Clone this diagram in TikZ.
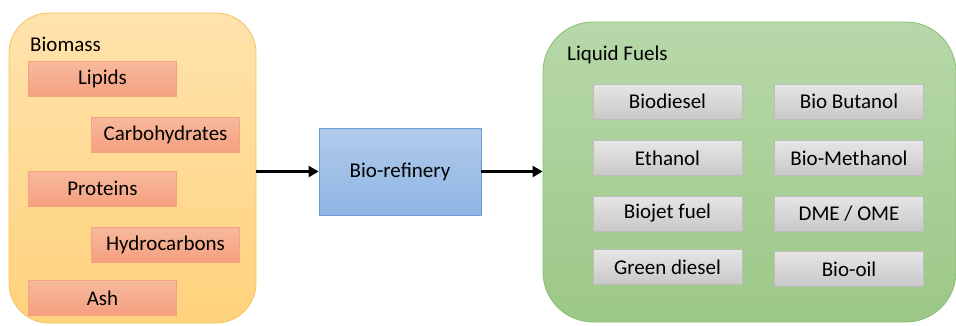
\documentclass[tikz,border=0pt]{standalone}
\usepackage{fontspec}
\setmainfont{Carlito}
\usetikzlibrary{arrows.meta}
\definecolor{panO1}{HTML}{FFE3AD}
\definecolor{panO2}{HTML}{FFD27C}
\definecolor{panOb}{HTML}{F7C35E}
\definecolor{boxS1}{HTML}{F7B99C}
\definecolor{boxS2}{HTML}{F5A080}
\definecolor{boxSb}{HTML}{F4A27F}
\definecolor{blu1}{HTML}{B1CBEA}
\definecolor{blu2}{HTML}{8EB4E3}
\definecolor{blub}{HTML}{6E9DD6}
\definecolor{grn1}{HTML}{B7D8A9}
\definecolor{grn2}{HTML}{9CC887}
\definecolor{grnb}{HTML}{8CBF74}
\definecolor{gry1}{HTML}{E6E6E6}
\definecolor{gry2}{HTML}{C8C8C8}
\definecolor{gryb}{HTML}{BDBDBD}
\tikzset{
  panelO/.style={draw=panOb, line width=0.8pt, top color=panO1, bottom color=panO2, rounded corners=40pt},
  panelG/.style={draw=grnb, line width=0.8pt, top color=grn1, bottom color=grn2, rounded corners=50pt},
  salbox/.style={draw=boxSb, line width=0.8pt, top color=boxS1, bottom color=boxS2, minimum width=148pt, minimum height=35pt, inner sep=0pt, font=\fontsize{21}{25}\selectfont},
  grybox/.style={draw=gryb, line width=0.8pt, top color=gry1, bottom color=gry2, minimum width=149pt, minimum height=35pt, inner sep=0pt, font=\fontsize{21}{25}\selectfont},
  refbox/.style={draw=blub, line width=0.8pt, top color=blu1, bottom color=blu2, minimum width=162pt, minimum height=87pt, inner sep=0pt, font=\fontsize{21}{25}\selectfont},
  lbl/.style={anchor=west, inner sep=0pt, font=\fontsize{21}{25}\selectfont},
  flow/.style={line width=3pt, -{Triangle[length=10pt,width=11pt]}}
}
\begin{document}
\begin{tikzpicture}[x=1pt,y=-1pt]
\useasboundingbox (0,0) rectangle (956,325);
% panels
\node[panelO, minimum width=247pt, minimum height=310pt, inner sep=0pt] (bio) at (132.5,168) {};
\node[panelG, minimum width=413pt, minimum height=300pt, inner sep=0pt] (liq) at (749.5,172) {};
\node[lbl] (biol) at (30,44) {Biomass};
\node[lbl] (liql) at (567,55) {Liquid Fuels};
% biomass components
\node[salbox] (lip) at (102.5,79) {Lipids};
\node[salbox] (carb) at (165.5,134.5) {Carbohydrates};
\node[salbox] (prot) at (102.5,188.5) {Proteins};
\node[salbox] (hyd) at (165.5,244.5) {Hydrocarbons};
\node[salbox] (ash) at (102.5,298) {Ash};
% refinery
\node[refbox] (ref) at (400,171.5) {Bio-refinery};
% fuels
\node[grybox] (bd) at (667.5,101.5) {Biodiesel};
\node[grybox] (eth) at (667.5,158) {Ethanol};
\node[grybox] (bj) at (667.5,213.5) {Biojet fuel};
\node[grybox] (gd) at (667.5,267) {Green diesel};
\node[grybox] (bb) at (849,101.5) {Bio Butanol};
\node[grybox] (bm) at (849,158) {Bio-Methanol};
\node[grybox] (dme) at (849,213.5) {DME / OME};
\node[grybox] (bo) at (849,269) {Bio-oil};
% arrows
\draw[flow] (bio.east |- ref.west) -- (ref.west);
\draw[flow] (ref.east) -- (liq.west |- ref.east);
\end{tikzpicture}
\end{document}
